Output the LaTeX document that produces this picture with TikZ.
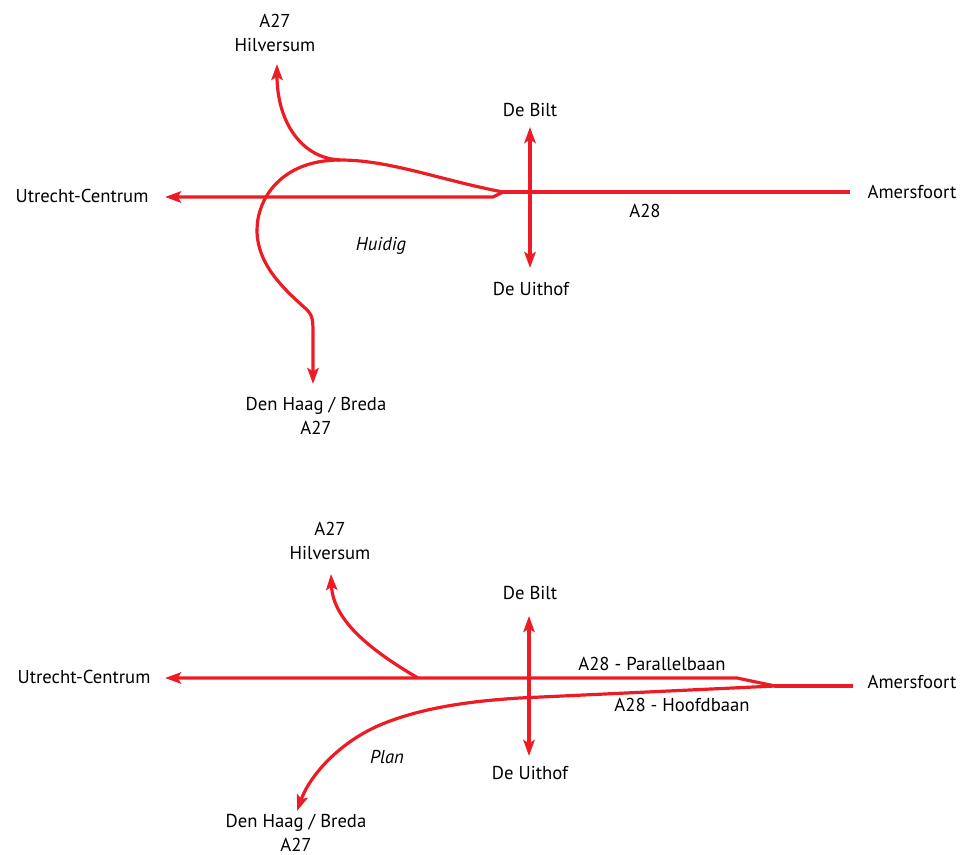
\documentclass[tikz,border=0pt]{standalone}
\usepackage{fontspec}
\setmainfont{PT Sans}
\usetikzlibrary{arrows.meta}
\definecolor{roadred}{RGB}{237,28,36}

\begin{document}
\begin{tikzpicture}[x=0.75pt,y=0.75pt,yscale=-1,xscale=1,
    road/.style={draw=roadred,line width=2.4pt,line join=round},
    tip/.style={-{Stealth[length=12pt,width=8.5pt,inset=2.5pt]}},
    both/.style={{Stealth[length=12pt,width=8.5pt,inset=2.5pt]}-{Stealth[length=12pt,width=8.5pt,inset=2.5pt]}},
    lbl/.style={inner sep=0.75pt,align=center,font=\fontsize{14}{18}\selectfont}]
    \useasboundingbox (0,0) rectangle (968,855);

    % huidig
    \coordinate (j1) at (503,192);
    \coordinate (k1) at (493,197);
    \coordinate (m1) at (340,160);
    \coordinate (utrA) at (165,197);
    \coordinate (amA) at (850,192);
    \coordinate (hilA) at (277,64);
    \coordinate (dhA) at (313,384);
    \coordinate (biltA) at (530,127);
    \coordinate (uitA) at (530,268);
    \draw [road,tip] (j1) -- (k1) -- (utrA) ;
    \draw [road] (j1) -- (amA) ;
    \draw [road,both] (biltA) -- (uitA) ;
    \draw [road,tip] (j1) .. controls (440,180) and (390,160) .. (m1) .. controls (300,158) and (277,120) .. (hilA) ;
    \draw [road,tip] (m1) .. controls (280,160) and (257,200) .. (257,230) .. controls (257,265) and (285,290) .. (305,308) .. controls (313,315) and (313,320) .. (313,335) -- (dhA) ;

    \node [lbl] (hil1) at (275,33) {A27\\Hilversum};
    \node [lbl] (bilt1) at (530,110) {De Bilt};
    \node [lbl] (utr1) at (82,196) {Utrecht-Centrum};
    \node [lbl] (am1) at (912,192) {Amersfoort};
    \node [lbl] (a28) at (645,211) {A28};
    \node [lbl] (huidig) at (381,246) {\itshape Huidig};
    \node [lbl] (uit1) at (531,289) {De Uithof};
    \node [lbl] (dh1) at (316,416) {Den Haag / Breda\\A27};

    % plan
    \coordinate (j2) at (775,686);
    \coordinate (k2) at (737,678);
    \coordinate (b2) at (418,678);
    \coordinate (h2) at (520,698);
    \coordinate (utrB) at (165,678);
    \coordinate (amB) at (853,686);
    \coordinate (hilB) at (331,574);
    \coordinate (dhB) at (297,811);
    \coordinate (biltB) at (529,616);
    \coordinate (uitB) at (529,756);
    \draw [road,tip] (j2) -- (k2) -- (utrB) ;
    \draw [road] (j2) -- (amB) ;
    \draw [road,both] (biltB) -- (uitB) ;
    \draw [road,tip] (b2) .. controls (370,650) and (333,620) .. (hilB) ;
    \draw [road,tip] (j2) -- (h2) .. controls (470,701) and (420,708) .. (380,725) .. controls (340,742) and (310,775) .. (dhB) ;

    \node [lbl] (hil2) at (330,541) {A27\\Hilversum};
    \node [lbl] (bilt2) at (530,593) {De Bilt};
    \node [lbl] (utr2) at (84,677) {Utrecht-Centrum};
    \node [lbl] (am2) at (912,682) {Amersfoort};
    \node [lbl] (par) at (652,664) {A28 - Parallelbaan};
    \node [lbl] (hoofd) at (682,705) {A28 - Hoofdbaan};
    \node [lbl] (plan) at (387,757) {\itshape Plan};
    \node [lbl] (uit2) at (530,773) {De Uithof};
    \node [lbl] (dh2) at (296,833) {Den Haag / Breda\\A27};
\end{tikzpicture}
\end{document}
